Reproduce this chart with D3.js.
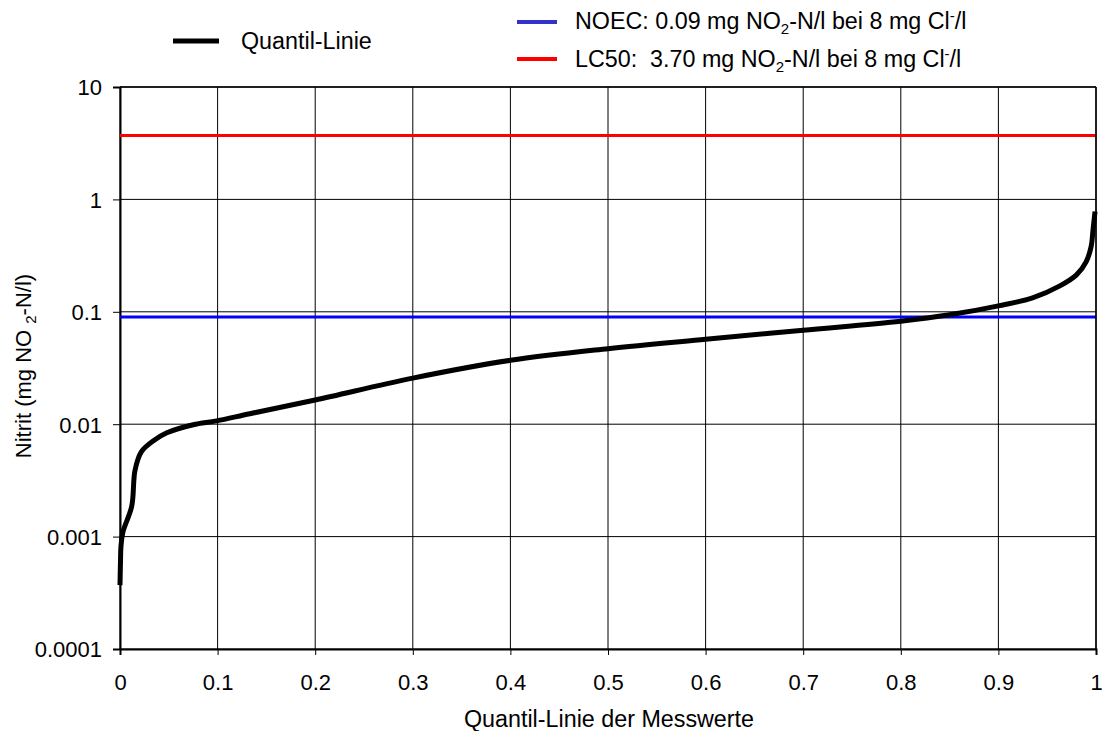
<!DOCTYPE html>
<html><head><meta charset="utf-8">
<script src="https://cdn.jsdelivr.net/npm/d3@7"></script>
<style>
body{margin:0;background:#fff;}
text{font-family:"Liberation Sans",Arial,sans-serif;}
</style></head>
<body><svg id="c" width="1102" height="731"></svg>
<script>
const quantiles = [0, 0.0005, 0.001, 0.003, 0.012, 0.0154, 0.022, 0.035, 0.048, 0.075, 0.099, 0.133, 0.2, 0.3, 0.4, 0.5, 0.6, 0.7, 0.8, 0.85, 0.9, 0.935, 0.963, 0.98, 0.99, 0.995, 0.997, 0.999];
const nitrit    = [0.00037, 0.0006, 0.00082, 0.0011, 0.00186, 0.0039, 0.0057, 0.0072, 0.0084, 0.0099, 0.0107, 0.0124, 0.0164, 0.0257, 0.037, 0.047, 0.057, 0.0686, 0.0825, 0.094, 0.113, 0.133, 0.17, 0.213, 0.28, 0.38, 0.54, 0.78];
const xTicks = [0, 0.1, 0.2, 0.3, 0.4, 0.5, 0.6, 0.7, 0.8, 0.9, 1];
const yTicks = [0.0001, 0.001, 0.01, 0.1, 1, 10];
const yTickLabels = ["0.0001", "0.001", "0.01", "0.1", "1", "10"];
const noec = 0.09;
const lc50 = 3.70;

const svg = d3.select("#c");
const x = d3.scaleLinear().domain([0, 1]).range([120, 1096]);
const y = d3.scaleLog().domain([0.0001, 10]).range([649, 87]);
const FS = 22;
const FL = 23.3;

// grid
svg.append("g").selectAll("line").data(xTicks).join("line")
  .attr("x1", d => x(d)).attr("x2", d => x(d)).attr("y1", y(10)).attr("y2", y(0.0001))
  .attr("stroke", "#000").attr("stroke-width", 1);
svg.append("g").selectAll("line").data(yTicks).join("line")
  .attr("x1", x(0)).attr("x2", x(1)).attr("y1", d => y(d)).attr("y2", d => y(d))
  .attr("stroke", "#000").attr("stroke-width", 1);

// axes
const ya = svg.append("g").attr("transform", `translate(${x(0)},0)`)
  .call(d3.axisLeft(y).tickValues(yTicks).tickFormat((d, i) => yTickLabels[i]).tickSize(7).tickPadding(11));
const xa = svg.append("g").attr("transform", `translate(0,${y(0.0001)})`)
  .call(d3.axisBottom(x).tickValues(xTicks).tickFormat(d => String(d)).tickSize(6).tickPadding(8));
[ya, xa].forEach(a => {
  a.attr("font-size", FS).attr("font-family", "Liberation Sans, Arial, sans-serif");
  a.selectAll("text").attr("fill", "#000");
  a.selectAll("line").attr("stroke", "#000");
  a.select(".domain").attr("stroke", "#000").attr("stroke-width", 2);
});
ya.selectAll("text").attr("dy", "0.36em");
xa.selectAll("text").attr("dy", null).attr("y", 41);

// reference lines
svg.append("line").attr("x1", x(0)).attr("x2", x(1)).attr("y1", y(lc50)).attr("y2", y(lc50))
  .attr("stroke", "#ff0000").attr("stroke-width", 3);
svg.append("line").attr("x1", x(0)).attr("x2", x(1)).attr("y1", y(noec)).attr("y2", y(noec))
  .attr("stroke", "#0000ff").attr("stroke-width", 3);

// curve
svg.append("path").datum(nitrit)
  .attr("d", d3.line().x((d, i) => x(quantiles[i])).y(d => y(d)).curve(d3.curveCatmullRom))
  .attr("fill", "none").attr("stroke", "#000").attr("stroke-width", 5).attr("stroke-linejoin", "round");

// border on top/right
svg.append("line").attr("x1", x(0)).attr("x2", x(1)).attr("y1", y(10)).attr("y2", y(10)).attr("stroke", "#000").attr("stroke-width", 1.5);
svg.append("line").attr("x1", x(1)).attr("x2", x(1)).attr("y1", y(10)).attr("y2", y(0.0001)).attr("stroke", "#000").attr("stroke-width", 1.5);

// axis titles
svg.append("text").attr("x", 609).attr("y", 727).attr("text-anchor", "middle").attr("font-size", FL).text("Quantil-Linie der Messwerte");
const yt = svg.append("text").attr("transform", "translate(31,366) rotate(-90)").attr("text-anchor", "middle").attr("font-size", FS);
yt.append("tspan").text("Nitrit (mg NO ");
yt.append("tspan").attr("font-size", 15).attr("dy", 5).text("2");
yt.append("tspan").attr("dy", -5).text("-N/l)");

// legend
const lg = svg.append("g").attr("font-size", FL);
lg.append("line").attr("x1", 173).attr("x2", 219).attr("y1", 41).attr("y2", 41).attr("stroke", "#000").attr("stroke-width", 5);
lg.append("text").attr("x", 241).attr("y", 49).text("Quantil-Linie");
lg.append("line").attr("x1", 517).attr("x2", 557).attr("y1", 22).attr("y2", 22).attr("stroke", "#3333cc").attr("stroke-width", 4);
const t1 = lg.append("text").attr("x", 575).attr("y", 29);
t1.append("tspan").text("NOEC: 0.09 mg NO");
t1.append("tspan").attr("font-size", 15).attr("dy", 5).text("2");
t1.append("tspan").attr("dy", -5).text("-N/l bei 8 mg Cl");
t1.append("tspan").attr("font-size", 15).attr("dy", -8).text("-");
t1.append("tspan").attr("dy", 8).text("/l");
lg.append("line").attr("x1", 517).attr("x2", 557).attr("y1", 59).attr("y2", 59).attr("stroke", "#ff0000").attr("stroke-width", 4);
const t2 = lg.append("text").attr("x", 575).attr("y", 67).attr("xml:space", "preserve");
t2.append("tspan").text("LC50:  3.70 mg NO");
t2.append("tspan").attr("font-size", 15).attr("dy", 5).text("2");
t2.append("tspan").attr("dy", -5).text("-N/l bei 8 mg Cl");
t2.append("tspan").attr("font-size", 15).attr("dy", -8).text("-");
t2.append("tspan").attr("dy", 8).text("/l");
</script></body></html>
